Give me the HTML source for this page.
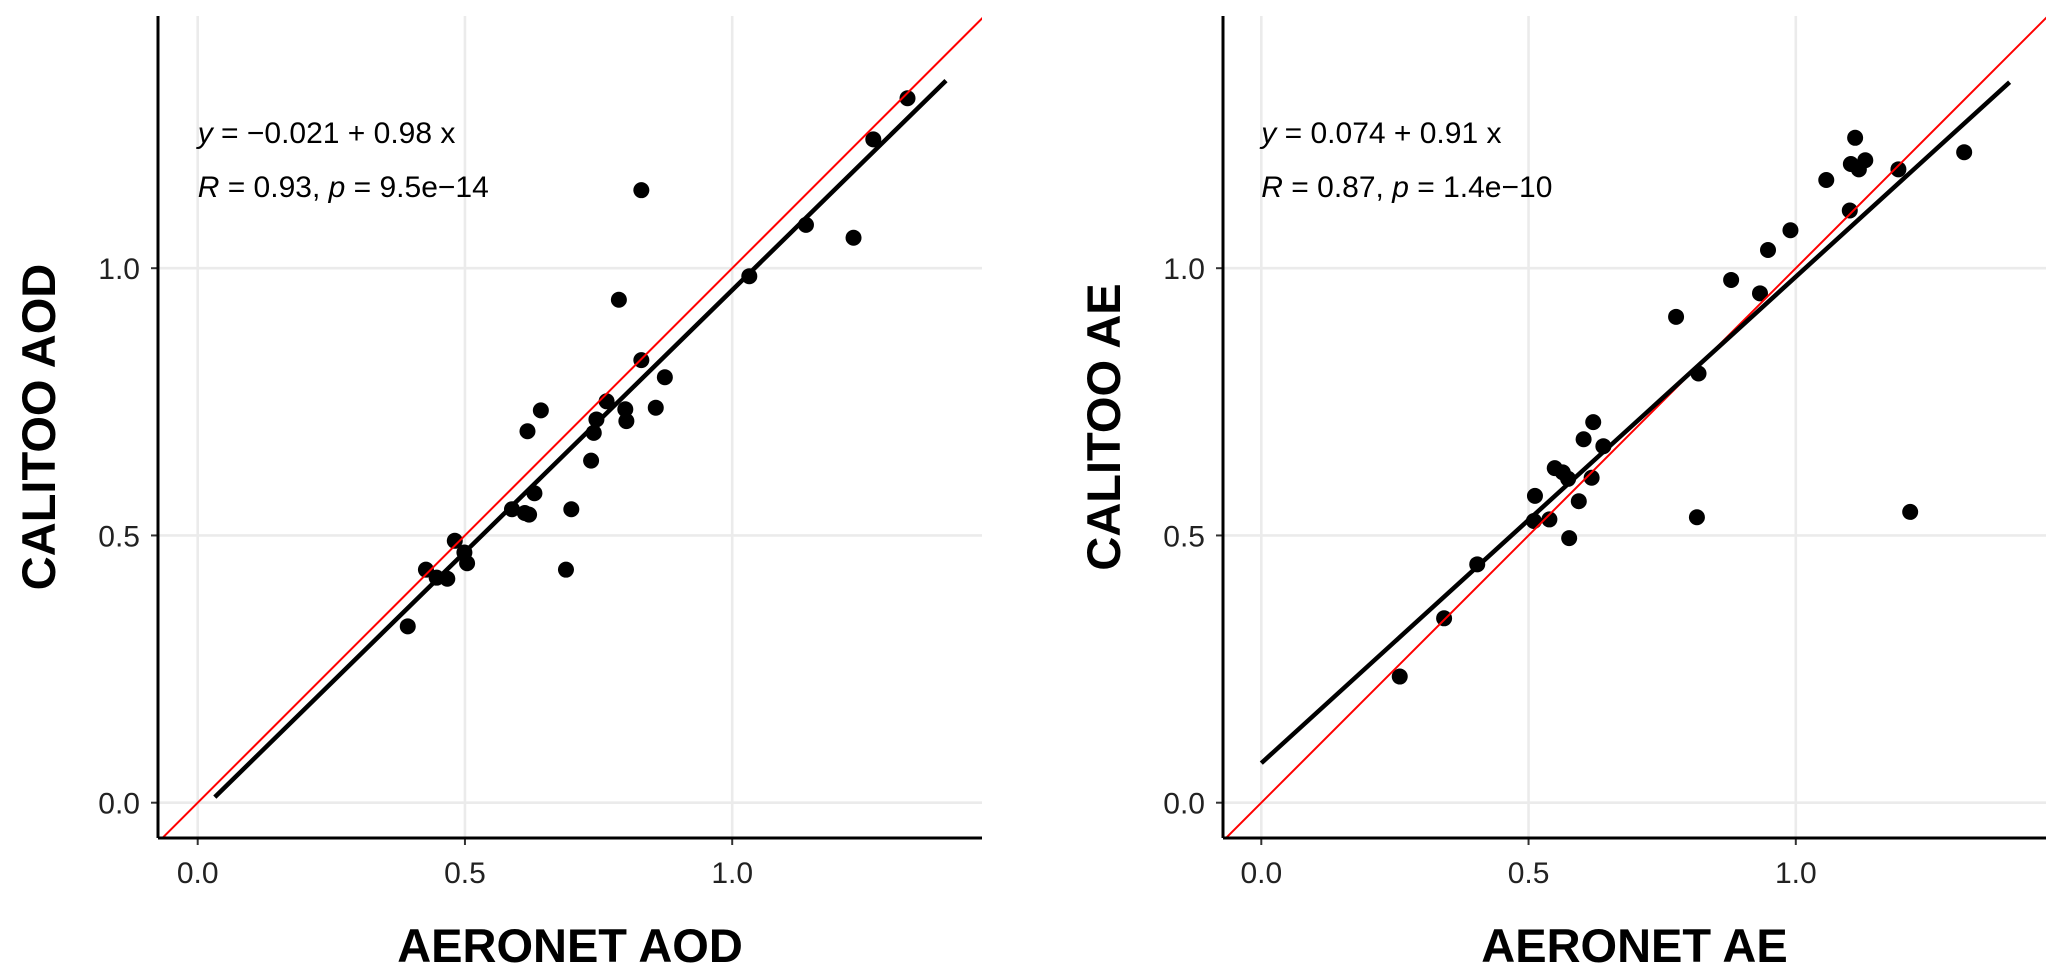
<!DOCTYPE html>
<html><head><meta charset="utf-8">
<style>
html,body{margin:0;padding:0;background:#fff;}
svg{display:block;font-family:"Liberation Sans",Arial,sans-serif;}
</style></head>
<body>
<svg id="chart" width="2067" height="976" viewBox="0 0 2067 976" xmlns="http://www.w3.org/2000/svg"></svg>
<script>
const ticks = [0, 0.5, 1.0];
const tickLabels = ["0.0", "0.5", "1.0"];
const aodX = [1.328,1.264,0.830,1.138,1.227,1.032,0.788,0.830,0.874,0.642,0.765,0.800,0.857,0.746,0.802,0.741,0.617,0.736,0.630,0.588,0.612,0.620,0.699,0.481,0.499,0.504,0.427,0.447,0.467,0.689,0.393];
const aodY = [1.318,1.241,1.146,1.081,1.057,0.985,0.941,0.828,0.796,0.734,0.751,0.736,0.739,0.717,0.714,0.692,0.695,0.640,0.579,0.549,0.542,0.539,0.549,0.490,0.468,0.448,0.436,0.421,0.419,0.436,0.330];
const aeX = [1.315,1.111,1.130,1.103,1.118,1.192,1.057,1.101,0.990,0.948,0.879,0.933,0.776,0.818,0.621,0.603,0.640,0.549,0.564,0.574,0.618,0.594,0.512,0.510,0.539,0.576,0.815,1.214,0.404,0.342,0.259];
const aeY = [1.217,1.244,1.202,1.195,1.185,1.185,1.165,1.108,1.071,1.034,0.978,0.953,0.909,0.803,0.712,0.680,0.667,0.626,0.618,0.606,0.608,0.564,0.574,0.527,0.530,0.495,0.534,0.544,0.446,0.345,0.236];
const aodFit = [-0.021, 0.98];
const aeFit = [0.074, 0.91];
const aodFitRange = [0.032, 1.40];
const aeFitRange = [0.0, 1.40];

const NS = "http://www.w3.org/2000/svg";
const svg = document.getElementById("chart");
function mk(tag, attrs, parent) {
  const e = document.createElementNS(NS, tag);
  for (const k in attrs) e.setAttribute(k, attrs[k]);
  (parent || svg).appendChild(e);
  return e;
}

function panel(opt) {
  const g = mk("g", {});
  
  
  const x0 = opt.x0, ppu = 534.5, y0 = 802.7;
  const sx = v => x0 + v * ppu;
  const sy = v => y0 - v * ppu;
  const left = opt.axisX, right = opt.right, top = 16, bottom = 838;
  const cid = "clip-" + opt.name;
  const cp = mk("clipPath", {id: cid}, g);
  mk("rect", {x: left, y: top, width: right - left, height: bottom - top}, cp);
  ticks.forEach((t, i) => {
    const gx = mk("line", {x1: sx(t), x2: sx(t), y1: top, y2: bottom, stroke: "#ebebeb", "stroke-width": 2.6}, g);
    
    
    const gy = mk("line", {x1: left, x2: right, y1: sy(t), y2: sy(t), stroke: "#ebebeb", "stroke-width": 2.6}, g);
    
    
    mk("line", {x1: sx(t), x2: sx(t), y1: bottom, y2: bottom + 7, stroke: "#333", "stroke-width": 2}, g);
    mk("line", {x1: left - 7, x2: left, y1: sy(t), y2: sy(t), stroke: "#333", "stroke-width": 2}, g);
    const xt = mk("text", {x: sx(t), y: bottom + 45, "text-anchor": "middle", "font-size": 30, fill: "#222"}, g);
    xt.textContent = tickLabels[i];
    
    
    const yt = mk("text", {x: left - 18, y: sy(t) + 11, "text-anchor": "end", "font-size": 30, fill: "#222"}, g);
    yt.textContent = tickLabels[i];
    
    
  });
  const cg = mk("g", {"clip-path": "url(#" + cid + ")"}, g);
  opt.xs.forEach((xv, i) => {
    const c = mk("circle", {cx: sx(xv), cy: sy(opt.ys[i]), r: 8, fill: "#000"}, cg);
    
    
  });
  const one = mk("line", {x1: sx(-0.2), y1: sy(-0.2), x2: sx(1.6), y2: sy(1.6), stroke: "#ff0000", "stroke-width": 2}, cg);
  
  
  const fr = opt.fitRange, f = opt.fit;
  const fl = mk("line", {x1: sx(fr[0]), y1: sy(f[0] + f[1] * fr[0]), x2: sx(fr[1]), y2: sy(f[0] + f[1] * fr[1]), stroke: "#000", "stroke-width": 4.5}, cg);
  
  
  const ax = mk("line", {x1: left, x2: right, y1: bottom, y2: bottom, stroke: "#000", "stroke-width": 3}, g);
  
  
  const ay = mk("line", {x1: left, x2: left, y1: top, y2: bottom, stroke: "#000", "stroke-width": 3}, g);
  
  
  const e1 = mk("text", {x: sx(0), y: 143, "font-size": 30, fill: "#000"}, g);
  e1.innerHTML = opt.eq1;
  
  
  const e2 = mk("text", {x: sx(0), y: 197, "font-size": 30, fill: "#000"}, g);
  e2.innerHTML = opt.eq2;
  
  
  const xtitle = mk("text", {x: (left + right) / 2, y: 962, "text-anchor": "middle", "font-size": 47, "font-weight": "bold", fill: "#000"}, g);
  xtitle.textContent = opt.xtitle;
  
  
  const ytitle = mk("text", {x: 0, y: 0, transform: "translate(" + (opt.axisX - 103) + ",427) rotate(-90)", "text-anchor": "middle", "font-size": 47, "font-weight": "bold", fill: "#000"}, g);
  ytitle.textContent = opt.ytitle;
  
  
}

panel({name: "aod-panel", x0: 197.7, axisX: 158, right: 982, xs: aodX, ys: aodY, fit: aodFit, fitRange: aodFitRange,
  eq1: '<tspan font-style="italic">y</tspan> = −0.021 + 0.98 x',
  eq2: '<tspan font-style="italic">R</tspan> = 0.93, <tspan font-style="italic">p</tspan> = 9.5e−14',
  xtitle: "AERONET AOD", ytitle: "CALITOO AOD"});
panel({name: "ae-panel", x0: 1261.3, axisX: 1223, right: 2046, xs: aeX, ys: aeY, fit: aeFit, fitRange: aeFitRange,
  eq1: '<tspan font-style="italic">y</tspan> = 0.074 + 0.91 x',
  eq2: '<tspan font-style="italic">R</tspan> = 0.87, <tspan font-style="italic">p</tspan> = 1.4e−10',
  xtitle: "AERONET AE", ytitle: "CALITOO AE"});
</script>
</body></html>
